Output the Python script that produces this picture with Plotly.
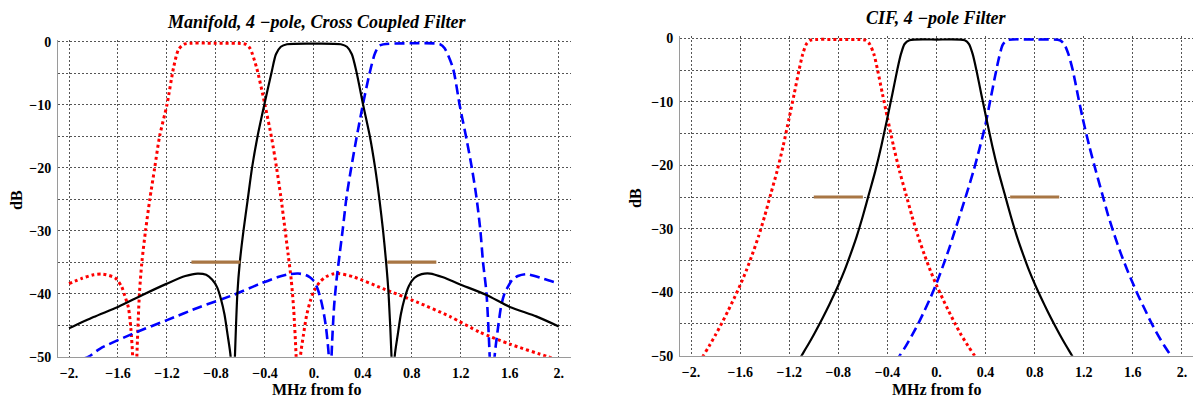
import plotly.graph_objects as go

W, H = 1193, 399

# ---------------- data: left plot (Manifold, 4-pole, cross coupled) ----------------
man_black_x = [-2.0, -1.8, -1.6, -1.4, -1.2, -1.05, -0.95, -0.88, -0.83, -0.79, -0.76, -0.73, -0.705, -0.68,
               -0.663, -0.645, -0.625, -0.605, -0.575, -0.54, -0.505, -0.46, -0.405, -0.345, -0.31, -0.27,
               -0.22, 0.0, 0.22, 0.27, 0.31, 0.348, 0.402, 0.457, 0.5, 0.535, 0.565, 0.59, 0.61, 0.634,
               0.647, 0.66, 0.685, 0.71, 0.74, 0.775, 0.82, 0.88, 0.95, 1.055, 1.19, 1.41, 1.6, 1.816, 2.0]
man_black_y = [-45.5, -43.7, -42.1, -40.2, -38.4, -37.2, -36.8, -37.0, -37.8, -39.0, -40.8, -43.3, -46.5, -50,
               -62, -50, -40, -35, -30, -25, -20, -15, -10, -4.8, -2.0, -0.8,
               -0.4, -0.3, -0.4, -0.8, -2.0, -4.8, -10, -15, -20, -25, -30, -35, -40, -50,
               -62, -50, -46.5, -43.3, -40.8, -38.8, -37.5, -36.9, -36.8, -37.4, -38.5, -40.2, -42.1, -43.6, -45.2]

man_red_x = [-2.0, -1.9, -1.8, -1.72, -1.623, -1.57, -1.545, -1.515, -1.495, -1.48, -1.463, -1.446, -1.425,
             -1.405, -1.375, -1.34, -1.3, -1.26, -1.2, -1.147, -1.107, -1.06, -0.8, -0.56, -0.522, -0.467,
             -0.4, -0.345, -0.305, -0.27, -0.237, -0.21, -0.185, -0.165, -0.145, -0.128, -0.11, -0.085,
             -0.06, -0.03, 0.0, 0.05, 0.1, 0.15, 0.2, 0.32, 0.565, 0.838, 1.109, 1.354, 1.6, 1.91, 2.0]
man_red_y = [-38.4, -37.6, -37.0, -36.9, -37.5, -38.9, -40.3, -42.2, -45.5, -50, -62, -50, -40,
             -35, -30, -25, -20, -15, -10, -4.2, -1.3, -0.4, -0.25, -0.4, -1.05, -4.2,
             -10, -15.3, -20, -24.6, -29.6, -33.8, -37.8, -42.5, -50, -62, -50, -46.5,
             -43.5, -41.2, -39.6, -38.1, -37.3, -36.9, -36.8, -37.3, -39.2, -41.3, -43.6, -46.1, -48.0, -50, -50.6]

man_blue_x = [-2.0, -1.84, -1.745, -1.474, -1.2, -0.93, -0.658, -0.45, -0.3, -0.2, -0.128, -0.07, -0.033,
              0.0, 0.03, 0.055, 0.08, 0.1, 0.122, 0.133, 0.144, 0.165, 0.185, 0.21, 0.237, 0.267, 0.305,
              0.348, 0.4, 0.455, 0.5, 0.54, 0.8, 1.03, 1.068, 1.136, 1.19, 1.245, 1.29, 1.327, 1.36,
              1.381, 1.41, 1.436, 1.456, 1.476, 1.5, 1.531, 1.56, 1.585, 1.62, 1.666, 1.735, 1.87, 2.0]
man_blue_y = [-51, -50, -48.7, -46.3, -44.2, -42.1, -40.2, -38.5, -37.4, -36.9, -36.8, -37.0, -37.4,
              -38.0, -39.2, -40.8, -43.0, -45.5, -50, -62, -50, -42, -37.8, -33.8, -29.6, -24.6, -20,
              -15.3, -10, -5.0, -1.8, -0.6, -0.25, -0.4, -1.05, -4.2, -10, -15.3, -20, -24.6, -30,
              -34.9, -40, -50, -62, -50, -46, -41.8, -39.8, -38.9, -37.8, -37.2, -36.9, -37.6, -38.4]

man_mark_x = [[-1.0, -0.6], [0.6, 1.0]]
man_mark_y = [[-35, -35], [-35, -35]]

# ---------------- data: right plot (CIF, 4-pole) ----------------
cif_red_x = [-2.0, -1.9, -1.85, -1.80, -1.75, -1.70, -1.65, -1.60, -1.55, -1.50, -1.45, -1.40, -1.35, -1.30,
             -1.25, -1.20, -1.16, -1.12, -1.09, -1.06, -1.025, -0.8, -0.58, -0.545, -0.51, -0.48, -0.44,
             -0.40, -0.35, -0.30, -0.25, -0.20, -0.15, -0.10, -0.05, 0.0, 0.05, 0.10, 0.15, 0.20, 0.255,
             0.31, 0.4]
cif_red_y = [-53.5, -50, -48.4, -46.7, -44.9, -43.0, -41.0, -38.9, -36.6, -34.0, -31.2, -28.0, -24.5, -21.0,
             -17.0, -12.5, -8.8, -5.0, -2.5, -0.9, -0.3, -0.2, -0.3, -0.9, -2.5, -5.0, -8.8,
             -12.5, -17.0, -21.0, -24.5, -28.0, -31.2, -34.0, -36.6, -38.9, -41.0, -43.0, -44.9, -46.7, -48.4,
             -50, -52.5]

cif_black_x = [-1.2, -1.10, -1.05, -1.00, -0.95, -0.90, -0.85, -0.80, -0.75, -0.70, -0.65, -0.60, -0.55,
               -0.50, -0.45, -0.40, -0.36, -0.32, -0.29, -0.26, -0.22, 0.0, 0.23, 0.265, 0.295, 0.325,
               0.365, 0.405, 0.455, 0.505, 0.555, 0.605, 0.655, 0.705, 0.755, 0.805, 0.855, 0.905, 0.955,
               1.005, 1.055, 1.105, 1.2]
cif_black_y = [-53.2, -50, -48.4, -46.7, -44.9, -43.0, -41.0, -38.9, -36.6, -34.0, -31.2, -28.0, -24.5,
               -21.0, -17.0, -12.5, -8.8, -5.0, -2.5, -0.9, -0.3, -0.2, -0.3, -0.9, -2.5, -5.0,
               -8.8, -12.5, -17.0, -21.0, -24.5, -28.0, -31.2, -34.0, -36.6, -38.9, -41.0, -43.0, -44.9,
               -46.7, -48.4, -50, -53.2]

cif_blue_x = [-0.4, -0.30, -0.25, -0.20, -0.15, -0.10, -0.05, 0.0, 0.05, 0.10, 0.15, 0.20, 0.25, 0.30,
              0.35, 0.40, 0.44, 0.48, 0.51, 0.54, 0.575, 0.8, 1.005, 1.04, 1.075, 1.11, 1.15, 1.19, 1.245,
              1.30, 1.35, 1.40, 1.45, 1.50, 1.55, 1.60, 1.65, 1.70, 1.75, 1.80, 1.855, 1.91, 2.0]
cif_blue_y = [-53, -50, -48.5, -46.8, -45.0, -43.0, -40.9, -38.6, -36.0, -33.3, -30.3, -27.3, -24.2, -21.0,
              -17.4, -13.5, -9.6, -5.7, -3.0, -1.0, -0.3, -0.2, -0.3, -0.9, -2.5, -5.0, -8.8, -12.5, -17.0,
              -21.0, -24.5, -28.0, -31.0, -33.8, -36.3, -38.6, -40.8, -42.8, -44.8, -46.6, -48.4, -50, -53]

cif_mark_x = [[-1.0, -0.6], [0.6, 1.0]]
cif_mark_y = [[-25, -25], [-25, -25]]

# ---------------- tick labels ----------------
x_tick_vals = [-2.0, -1.6, -1.2, -0.8, -0.4, 0.0, 0.4, 0.8, 1.2, 1.6, 2.0]
x_tick_text = ["\u22122.", "\u22121.6", "\u22121.2", "\u22120.8", "\u22120.4", "0.", "0.4", "0.8", "1.2", "1.6", "2."]
y_tick_vals = [0, -5, -10, -15, -20, -25, -30, -35, -40, -45, -50]
y_tick_text = ["0", "", "\u221210", "", "\u221220", "", "\u221230", "", "\u221240", "", "\u221250"]

titles = ["Manifold, 4 \u2212pole, Cross Coupled Filter", "CIF, 4 \u2212pole Filter"]
x_label = "MHz from fo"
y_label = "dB"

# ---------------- figure ----------------
RED = "rgb(255,0,0)"
BLUE = "rgb(0,0,255)"
BLACK = "rgb(0,0,0)"
BROWN = "rgb(168,118,68)"

fig = go.Figure()

def add_set(ax, ay, red, black, blue, marks):
    fig.add_trace(go.Scatter(x=red[0], y=red[1], mode="lines", xaxis=ax, yaxis=ay,
                             line=dict(color=RED, width=3, dash="dot", shape="spline", smoothing=0.7)))
    fig.add_trace(go.Scatter(x=blue[0], y=blue[1], mode="lines", xaxis=ax, yaxis=ay,
                             line=dict(color=BLUE, width=2.6, dash="10px,5px", shape="spline", smoothing=0.7)))
    fig.add_trace(go.Scatter(x=black[0], y=black[1], mode="lines", xaxis=ax, yaxis=ay,
                             line=dict(color=BLACK, width=2.2, shape="spline", smoothing=0.7)))
    for mx, my in zip(marks[0], marks[1]):
        fig.add_trace(go.Scatter(x=mx, y=my, mode="lines", xaxis=ax, yaxis=ay,
                                 line=dict(color=BROWN, width=3.2)))

add_set("x", "y", (man_red_x, man_red_y), (man_black_x, man_black_y), (man_blue_x, man_blue_y),
        (man_mark_x, man_mark_y))
add_set("x2", "y2", (cif_red_x, cif_red_y), (cif_black_x, cif_black_y), (cif_blue_x, cif_blue_y),
        (cif_mark_x, cif_mark_y))

tickfont = dict(family="Liberation Serif", size=14, color="black", weight="bold")
grid = dict(showgrid=True, gridcolor="#555555", gridwidth=1, griddash="2px,2px", zeroline=False,
            showline=True, linecolor="#9a9a9a", linewidth=1, ticks="", tickfont=tickfont,
            ticklabeloverflow="allow")

def bold(labels):
    return ["<b>%s</b>" % t if t else "" for t in labels]

def xaxis(dom, rng, anchor):
    d = dict(grid)
    d.update(domain=dom, range=rng, tickmode="array", tickvals=x_tick_vals, ticktext=bold(x_tick_text),
             anchor=anchor, ticklabelstandoff=3)
    return d

def yaxis(dom, rng, anchor):
    d = dict(grid)
    d.update(domain=dom, range=rng, tickmode="array", tickvals=y_tick_vals, ticktext=bold(y_tick_text),
             anchor=anchor, ticklabelstandoff=3)
    return d

fig.update_layout(
    width=W, height=H, margin=dict(l=0, r=0, t=0, b=0, autoexpand=False),
    paper_bgcolor="white", plot_bgcolor="white", showlegend=False,
    xaxis=xaxis([58 / W, 571 / W], [-2.09, 2.1], "y"),
    yaxis=yaxis([(H - 356.7) / H, (H - 39.8) / H], [-50, 0.3], "x"),
    xaxis2=xaxis([680 / W, 1.0], [-2.09, 2.09], "y2"),
    yaxis2=yaxis([(H - 355.7) / H, (H - 36.4) / H], [-50, 0.3], "x2"),
)

title_font = dict(family="Liberation Serif", size=18, color="black", weight="bold", style="italic")
label_font = dict(family="Liberation Serif", size=16, color="black", weight="bold")

ann = [
    dict(text=titles[0], x=316 / W, y=1 - 22 / H, font=title_font),
    dict(text=titles[1], x=936 / W, y=1 - 18.5 / H, font=title_font),
    dict(text=x_label, x=316 / W, y=1 - 389 / H, font=label_font),
    dict(text=x_label, x=936 / W, y=1 - 389 / H, font=label_font),
    dict(text=y_label, x=16 / W, y=1 - 200 / H, font=label_font, textangle=-90),
    dict(text=y_label, x=635 / W, y=1 - 198 / H, font=label_font, textangle=-90),
]
for a in ann:
    a.update(xref="paper", yref="paper", showarrow=False, xanchor="center", yanchor="middle")
fig.update_layout(annotations=ann)

fig.write_html("out.html", config={"displayModeBar": False},
               post_script="document.body.style.margin='0';document.body.style.overflow='hidden';")
